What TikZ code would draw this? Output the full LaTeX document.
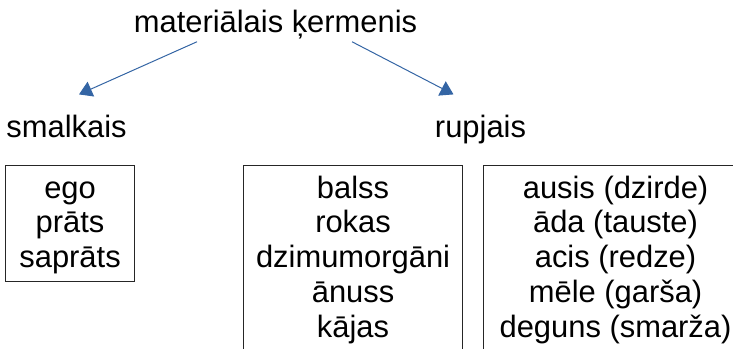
\documentclass[tikz,border=0pt]{standalone}
\usepackage{fontspec}
\setmainfont{Liberation Sans}
\usetikzlibrary{arrows.meta}
\definecolor{linkblue}{HTML}{3465A4}
\tikzset{
  word/.style={font=\fontsize{30.9}{35}\selectfont, inner sep=0pt},
  frame/.style={draw=black!85, line width=1.1pt, inner sep=0pt, anchor=north west},
  link/.style={draw=linkblue, line width=1pt, -{Triangle[width=16pt,length=13pt,fill=linkblue]}},
}
\begin{document}
\begin{tikzpicture}[x=1pt, y=-1pt]
  \useasboundingbox (0,0) rectangle (733,348);

  \node[word, anchor=base] (body) at (275.5,32) {materiālais ķermenis};
  \node[word, anchor=base] (fine) at (66.5,137) {smalkais};
  \node[word, anchor=base] (gross) at (480.5,137) {rupjais};

  \draw[link] ([shift={(-78.5,3)}]body.south) -- ([shift={(12.5,-20)}]fine.north);
  \draw[link] ([shift={(76.5,3)}]body.south) -- ([shift={(-27,-20)}]gross.north);

  \node[frame, minimum width=129, minimum height=116] (mind box) at (5,165) {};
  \node[frame, minimum width=219, minimum height=220] (organ box) at (243,165) {};
  \node[frame, minimum width=264, minimum height=220] (sense box) at (483,165) {};

  \foreach \w [count=\i] in {ego, prāts, saprāts}
    \node[word, anchor=base] (mind\i) at ([shift={(0,{33+34.8*(\i-1)})}]mind box.north) {\w};

  \foreach \w [count=\i] in {balss, rokas, dzimumorgāni, ānuss, kājas}
    \node[word, anchor=base] (organ\i) at ([shift={(0,{33+34.8*(\i-1)})}]organ box.north) {\w};

  \foreach \w [count=\i] in {ausis (dzirde), āda (tauste), acis (redze), mēle (garša), deguns (smarža)}
    \node[word, anchor=base] (sense\i) at ([shift={(0,{33+34.8*(\i-1)})}]sense box.north) {\w};
\end{tikzpicture}
\end{document}
